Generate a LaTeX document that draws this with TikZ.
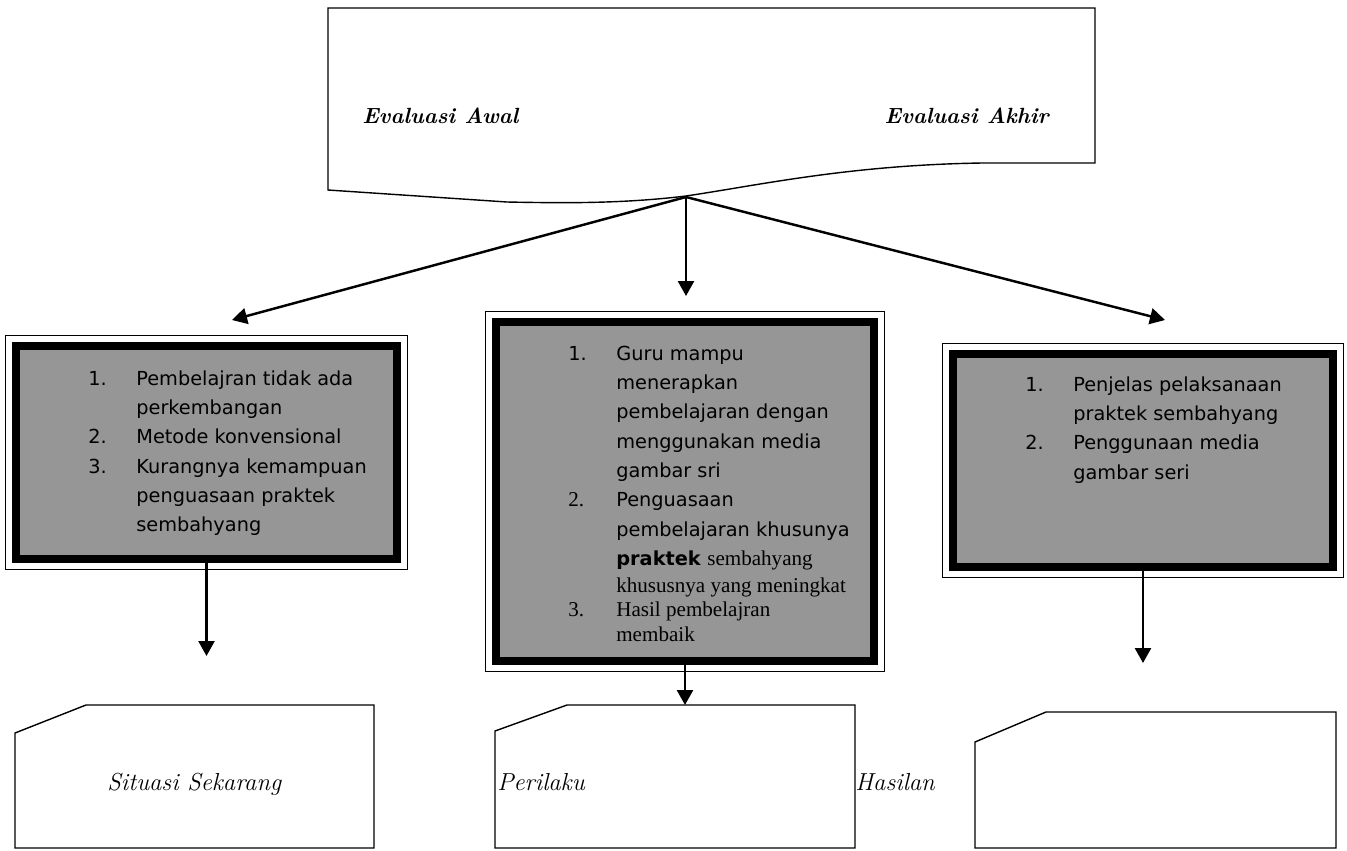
\documentclass[tikz,border=0pt]{standalone}
\usepackage{fontspec}
\usetikzlibrary{arrows.meta}
\newfontfamily\comicfont{DejaVu Sans}
\newfontfamily\timesfont{Liberation Serif}
\definecolor{boxgray}{RGB}{150,150,150}
\newcommand{\tms}{\timesfont\fontsize{12}{14}\selectfont}

\tikzset{
  listbox/.style={draw=black, fill=boxgray, line width=0.16cm, inner sep=0pt},
  outerframe/.style={draw=black, line width=0.8pt},
  listtext/.style={inner sep=0pt, anchor=base west, font=\comicfont\fontsize{11}{16.7}\selectfont},
  cardtext/.style={inner sep=0pt, anchor=base west, font=\fontsize{14}{16}\selectfont\itshape},
  evaltext/.style={inner sep=0pt, font=\fontsize{12.5}{14}\selectfont\bfseries\itshape},
  flow/.style={line width=1.4pt, -{Triangle[length=0.3cm,width=0.32cm]}},
  thinline/.style={line width=0.8pt}
}

\begin{document}
\begin{tikzpicture}[x=0.02cm, y=-0.02cm]
    \useasboundingbox (0,0) rectangle (1347,850);

    % evaluasi
    \draw[thinline] (328,8) -- (1095,8) -- (1095,163) -- (982,163)
        .. controls (850,165) and (760,185) .. (686,196)
        .. controls (620,204) and (560,203) .. (507,202) -- (328,190) -- cycle;
    \node[evaltext, anchor=base west] (awal) at (362,123) {Evaluasi Awal};
    \node[evaltext, anchor=base east] (akhir) at (1049,123) {Evaluasi Akhir};

    % kotak
    \node[listbox, minimum width=7.62cm, minimum height=4.26cm] (lbox) at (206.5,452.5) {};
    \node[listbox, minimum width=7.56cm, minimum height=6.78cm] (mbox) at (685,491.5) {};
    \node[listbox, minimum width=7.6cm, minimum height=4.26cm] (rbox) at (1143,460.5) {};
    \foreach \b in {lbox,mbox,rbox}
        \draw[outerframe] ([shift={(-0.125cm,0.125cm)}]\b.north west) rectangle ([shift={(0.125cm,-0.125cm)}]\b.south east);

    \node[listtext] (listL) at (88,385) {\begin{tabular}[t]{@{}p{0.96cm}@{}l@{}}
        1. & Pembelajran tidak ada\\
           & perkembangan\\
        2. & Metode konvensional\\
        3. & Kurangnya kemampuan\\
           & penguasaan praktek\\
           & sembahyang
        \end{tabular}};
    \node[listtext] (listM) at (568,360) {\begin{tabular}[t]{@{}p{0.96cm}@{}l@{}}
        1. & Guru mampu\\
           & menerapkan\\
           & pembelajaran dengan\\
           & menggunakan media\\
           & gambar sri\\
        {\tms 2.} & Penguasaan\\
           & pembelajaran khusunya\\
           & \textbf{praktek} {\tms sembahyang}\\[-1.5pt]
           & {\tms khususnya yang meningkat}\\[-2.6pt]
        {\tms 3.} & {\tms Hasil pembelajran}\\[-2.6pt]
           & {\tms membaik}
        \end{tabular}};
    \node[listtext] (listR) at (1025,391) {\begin{tabular}[t]{@{}p{0.96cm}@{}l@{}}
        1. & Penjelas pelaksanaan\\
           & praktek sembahyang\\
        2. & Penggunaan media\\
           & gambar seri
        \end{tabular}};

    % kartu bawah
    \draw[thinline] (15,733) -- (86,705) -- (374,705) -- (374,848) -- (15,848) -- cycle;
    \draw[thinline] (495,731) -- (567,705) -- (855,705) -- (855,848) -- (495,848) -- cycle;
    \draw[thinline] (975,742) -- (1046,712) -- (1336,712) -- (1336,848) -- (975,848) -- cycle;
    \node[cardtext] (situasi) at (107,790) {Situasi Sekarang};
    \node[cardtext] (perilaku) at (497,790) {Perilaku};
    \node[cardtext] (hasilan) at (855,790) {Hasilan};

    % panah
    \coordinate (split) at (686,197);
    \coordinate (tipL) at (232,320);
    \coordinate (tipM) at (686,296);
    \coordinate (tipR) at (1165,320);
    \coordinate (downL) at (206.5,656);
    \coordinate (downR) at (1143,663);
    \coordinate (cardM) at (685,705);
    \draw[flow] (split) -- (tipL);
    \draw[flow] (split) -- (tipM);
    \draw[flow] (split) -- (tipR);
    \draw[flow] (lbox.south) -- (downL);
    \draw[flow] (mbox.south) -- (cardM);
    \draw[flow] (rbox.south) -- (downR);

\end{tikzpicture}
\end{document}
